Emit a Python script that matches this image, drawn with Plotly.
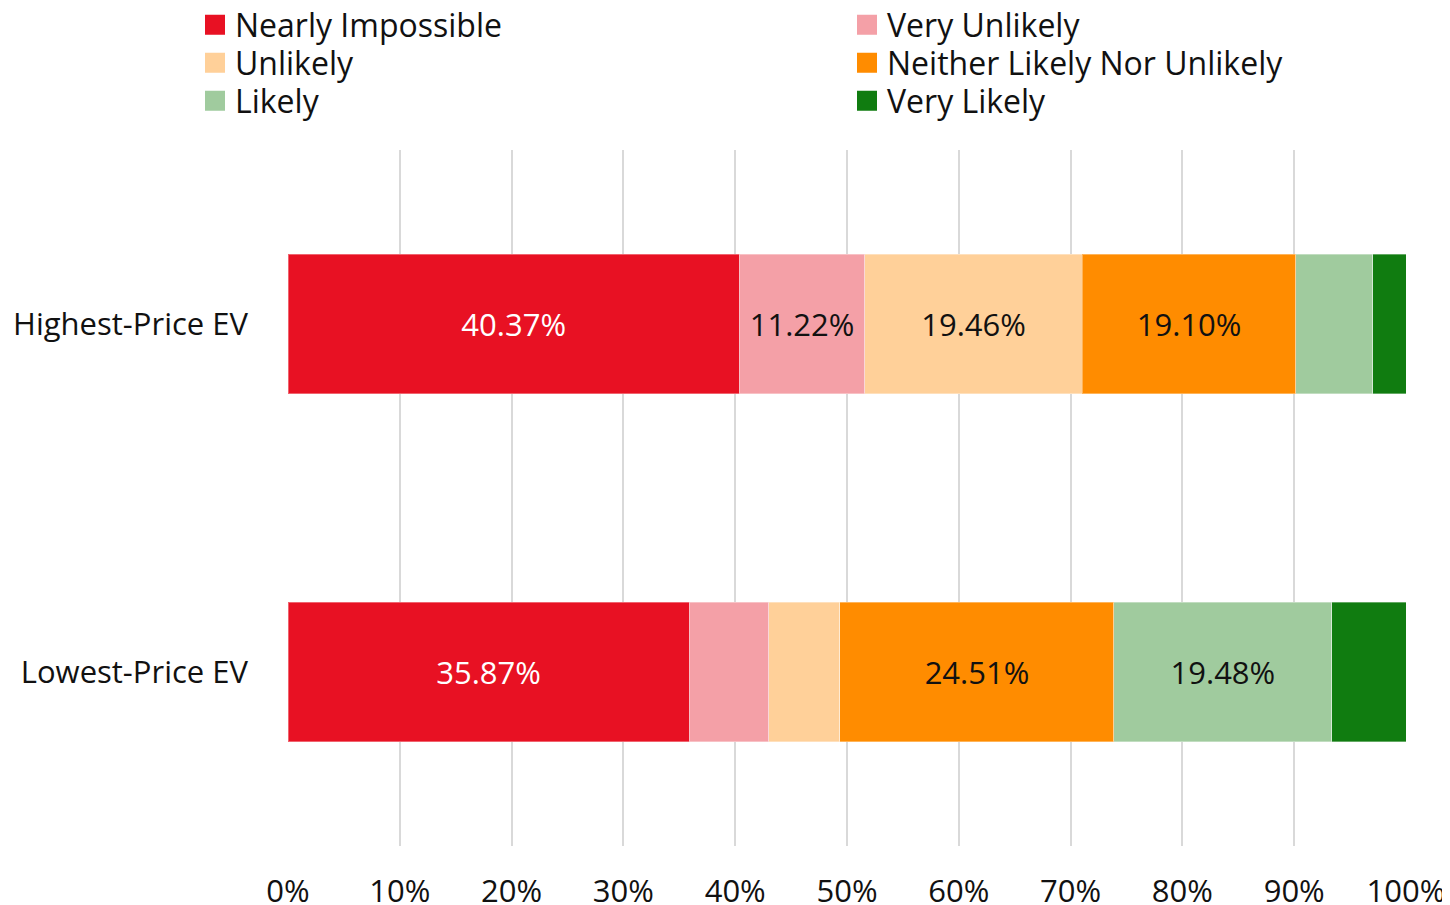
import plotly.graph_objects as go

categories = ["Highest-Price EV", "Lowest-Price EV"]
series_names = ["Nearly Impossible", "Very Unlikely", "Unlikely",
                "Neither Likely Nor Unlikely", "Likely", "Very Likely"]
nearly_impossible = [40.37, 35.87]
very_unlikely = [11.22, 7.15]
unlikely = [19.46, 6.35]
neither = [19.10, 24.51]
likely = [6.89, 19.48]
very_likely = [2.96, 6.64]
x_ticks = [0, 10, 20, 30, 40, 50, 60, 70, 80, 90, 100]
x_tick_labels = ["0%", "10%", "20%", "30%", "40%", "50%", "60%", "70%", "80%", "90%", "100%"]

colors = ["#E81123", "#F4A0A7", "#FFD099", "#FF8C00", "#A0CB9E", "#107C10"]
text_colors = ["#FFFFFF", "#111111", "#111111", "#111111", "#111111", "#FFFFFF"]
FONT = "Open Sans"
FS = 31
LEG_FS = 32

# page has an 8px body margin, so the figure is sized to fit the window
W, H = 1442, 897

# legend slot for each series: column left (px) and row centre (px), figure coords
legend_cols = [187, 839]
legend_row_centres = [17, 55, 93]

fig = go.Figure()
all_values = [nearly_impossible, very_unlikely, unlikely, neither, likely, very_likely]
legend_layouts = {}
for i, (name, vals, col, tcol) in enumerate(zip(series_names, all_values, colors, text_colors)):
    labels = [f"{v:.2f}%" if v >= 10 else "" for v in vals]
    lg = "legend" if i == 0 else f"legend{i + 1}"
    fig.add_trace(go.Bar(
        name=name, y=categories, x=vals, orientation="h",
        marker=dict(color=col, line=dict(color="rgba(255,255,255,0.35)", width=1)),
        text=labels, textposition="inside", insidetextanchor="middle",
        textfont=dict(family=FONT, size=FS, color=tcol),
        hoverinfo="skip", showlegend=False, legendgroup=name,
    ))
    # legend swatch entry (larger square icon)
    fig.add_trace(go.Scatter(
        name=name, x=[None], y=[None], mode="markers",
        marker=dict(symbol="square", size=16, color=col, line=dict(color=col, width=4)),
        showlegend=True, legendgroup=name, legend=lg, hoverinfo="skip",
    ))
    colx = legend_cols[i % 2]
    rowc = legend_row_centres[i // 2]
    legend_layouts[lg] = dict(
        xref="container", yref="container",
        x=colx / W, y=1 - rowc / H, xanchor="left", yanchor="middle",
        itemsizing="trace", itemwidth=30,
        font=dict(family=FONT, size=LEG_FS, color="#111111"),
        bgcolor="rgba(0,0,0,0)", borderwidth=0,
    )

fig.update_layout(
    barmode="stack",
    bargap=0.6,
    width=W, height=H,
    margin=dict(l=280, r=44, t=142, b=59, autoexpand=False),
    paper_bgcolor="white", plot_bgcolor="white",
    font=dict(family=FONT, size=FS, color="#111111"),
    showlegend=True,
    **legend_layouts,
)
fig.update_xaxes(
    range=[0, 100], tickvals=x_ticks, ticktext=x_tick_labels,
    showgrid=True, gridcolor="#D9D9D9", gridwidth=2,
    zeroline=False, showline=False, ticks="",
    ticklabelstandoff=24,
    tickfont=dict(family=FONT, size=FS, color="#111111"),
)
fig.update_yaxes(
    categoryorder="array", categoryarray=categories, autorange="reversed",
    showgrid=False, zeroline=False, showline=False, ticks="",
    ticklabelstandoff=39,
    tickfont=dict(family=FONT, size=FS, color="#111111"),
)

fig.write_html("out.html")
